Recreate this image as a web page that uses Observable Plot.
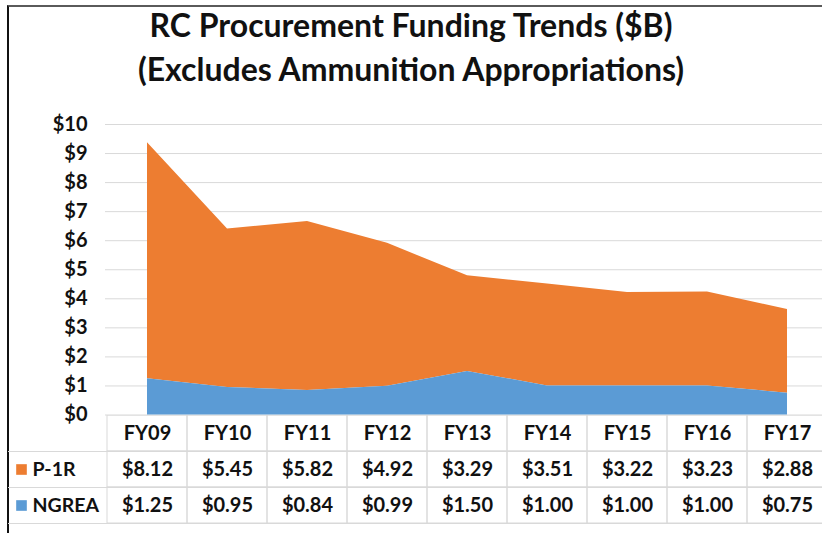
<!DOCTYPE html>
<html>
<head>
<meta charset="utf-8">
<script src="https://cdn.jsdelivr.net/npm/d3@7"></script>
<script src="https://cdn.jsdelivr.net/npm/@observablehq/plot@0.6"></script>
<style>
  html, body { margin: 0; padding: 0; background: #fff; }
  body { width: 822px; height: 533px; position: relative; overflow: hidden;
         font-family: Lato, "Open Sans", sans-serif; }
  #frame { position: absolute; left: 7px; top: 5px; width: 820px; height: 540px;
           border-top: 2px solid #5a5a5a; border-left: 2px solid #111; }
  #title { position: absolute; left: 0; top: 3px; width: 822px; text-align: center;
           font-size: 32px; line-height: 44px; font-weight: bold; color: #111; }
  #chart { position: absolute; left: 0; top: 110px; }
  #table { position: absolute; left: 0; top: 415px; }
  svg { display: block; }
</style>
</head>
<body>
<div id="frame"></div>
<div id="title">RC Procurement Funding Trends ($B)<br>(Excludes Ammunition Appropriations)</div>
<div id="chart"></div>
<div id="table"></div>
<script>
const years = ["FY09","FY10","FY11","FY12","FY13","FY14","FY15","FY16","FY17"];
const p1r   = [8.12, 5.45, 5.82, 4.92, 3.29, 3.51, 3.22, 3.23, 2.88];
const ngrea = [1.25, 0.95, 0.84, 0.99, 1.50, 1.00, 1.00, 1.00, 0.75];
const seriesNames = ["P-1R", "NGREA"];
const seriesColors = ["#ED7D31", "#5B9BD5"];
const stackOrder = ["NGREA", "P-1R"];
const yTicks = [0,1,2,3,4,5,6,7,8,9,10];

const FONT = 'Lato, "Open Sans", sans-serif';
const seriesValues = {"P-1R": p1r, "NGREA": ngrea};

const rows = [];
for (const s of seriesNames) years.forEach((y, i) => rows.push({year: y, series: s, value: seriesValues[s][i]}));

const xRange = [105, 829.5];

const chart = Plot.plot({
  width: 822, height: 330,
  marginTop: 14, marginBottom: 25.5, marginLeft: 105, marginRight: 0,
  style: {fontFamily: FONT, background: "transparent", color: "#111"},
  x: {type: "point", domain: years, range: xRange, padding: 0.5, axis: null},
  y: {domain: [0, 10], axis: null},
  color: {domain: seriesNames, range: seriesColors},
  marks: [
    Plot.gridY(yTicks, {stroke: "#d9d9d9", strokeOpacity: 1}),
    Plot.areaY(rows, {x: "year", y: "value", fill: "series", order: stackOrder, curve: "linear"}),
    Plot.axisY(yTicks, {tickSize: 0, tickPadding: 18, fontWeight: "bold", fontSize: 20, fill: "#111",
                        tickFormat: d => "$" + d, anchor: "left", label: null})
  ]
});
document.getElementById("chart").appendChild(chart);

// table
const cellRows = [];
years.forEach(y => { for (let r = 0; r < 3; r++) cellRows.push({year: y, r0: r, r1: r + 1}); });
const texts = [];
years.forEach((y, i) => {
  texts.push({year: y, row: 0.5, text: y});
  texts.push({year: y, row: 1.5, text: "$" + p1r[i].toFixed(2)});
  texts.push({year: y, row: 2.5, text: "$" + ngrea[i].toFixed(2)});
});
const legendRows = seriesNames.map((s, i) => ({name: s, row: i + 1.5}));

const table = Plot.plot({
  width: 822, height: 118,
  marginTop: 0, marginBottom: 10, marginLeft: 8, marginRight: 0,
  style: {fontFamily: FONT, background: "transparent", color: "#111"},
  x: {type: "band", domain: years, range: xRange, padding: 0, axis: null},
  y: {domain: [0, 3], range: [0, 108], axis: null},
  color: {domain: seriesNames, range: seriesColors},
  marks: [
    Plot.ruleY([1, 2, 3], {stroke: "#d9d9d9"}),
    Plot.barY(cellRows, {x: "year", y1: "r0", y2: "r1", fill: "none", stroke: "#d9d9d9"}),
    Plot.text(texts, {x: "year", y: "row", text: "text", fontWeight: "bold", fontSize: 20, fill: "#111"}),
    Plot.dot(legendRows, {y: "row", frameAnchor: "left", dx: 13, symbol: "square", r: 6, fill: "name"}),
    Plot.text(legendRows, {y: "row", text: "name", frameAnchor: "left", dx: 24, textAnchor: "start",
                           fontWeight: "bold", fontSize: 19.5, fill: "#111"})
  ]
});
document.getElementById("table").appendChild(table);
</script>
</body>
</html>
